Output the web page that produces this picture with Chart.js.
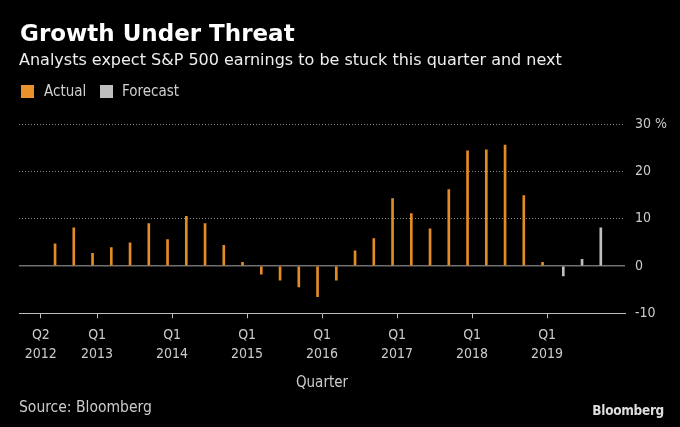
<!DOCTYPE html>
<html>
<head>
<meta charset="utf-8">
<script src="https://cdn.jsdelivr.net/npm/chart.js@4.4.1/dist/chart.umd.min.js"></script>
<style>
html,body{margin:0;padding:0;background:#000;}
#wrap{position:relative;width:680px;height:427px;background:#000;overflow:hidden;}
canvas{position:absolute;left:0;top:0;}
.t{position:absolute;white-space:nowrap;line-height:1;}
#title{left:20px;top:21.5px;font-family:'DejaVu Sans';font-weight:bold;font-size:23px;color:#fff;}
#sub{left:19px;top:51.5px;font-family:'DejaVu Sans';font-size:16px;color:#eee;}
.leg{top:84.3px;font-family:'DejaVu Sans Condensed','DejaVu Sans';font-size:15px;color:#d0d0d0;}
.box{position:absolute;top:85px;width:13px;height:13px;}
#src{left:19px;top:399.5px;font-family:'DejaVu Sans Condensed','DejaVu Sans';font-size:15.5px;color:#ccc;}
#logo{right:16px;top:404px;font-family:'DejaVu Sans Condensed','DejaVu Sans';font-weight:bold;font-size:13.5px;color:#ddd;letter-spacing:-0.3px;}
</style>
</head>
<body>
<div id="wrap">
<canvas id="c" width="680" height="427"></canvas>
<div class="t" id="title">Growth Under Threat</div>
<div class="t" id="sub">Analysts expect S&amp;P 500 earnings to be stuck this quarter and next</div>
<div class="box" style="left:21px;background:#E8912D;"></div>
<div class="t leg" style="left:44px;">Actual</div>
<div class="box" style="left:100px;background:#BFBFBF;"></div>
<div class="t leg" style="left:122px;">Forecast</div>
<div class="t" id="src">Source: Bloomberg</div>
<div class="t" id="logo">Bloomberg</div>
</div>
<script>
// ---- data ----
const quarters = [
  'Q2 2012','Q3 2012','Q4 2012',
  'Q1 2013','Q2 2013','Q3 2013','Q4 2013',
  'Q1 2014','Q2 2014','Q3 2014','Q4 2014',
  'Q1 2015','Q2 2015','Q3 2015','Q4 2015',
  'Q1 2016','Q2 2016','Q3 2016','Q4 2016',
  'Q1 2017','Q2 2017','Q3 2017','Q4 2017',
  'Q1 2018','Q2 2018','Q3 2018','Q4 2018',
  'Q1 2019','Q2 2019','Q3 2019','Q4 2019'
];
const actual = [
  null, 4.7, 8.1,
  2.7, 3.9, 4.9, 9.0,
  5.6, 10.5, 9.0, 4.4,
  0.8, -1.7, -3.0, -4.4,
  -6.5, -3.0, 3.2, 5.8,
  14.3, 11.1, 7.9, 16.2,
  24.4, 24.6, 25.6, 14.9,
  0.8, null, null, null
];
const forecast = [
  null, null, null,
  null, null, null, null,
  null, null, null, null,
  null, null, null, null,
  null, null, null, null,
  null, null, null, null,
  null, null, null, null,
  null, -2.1, 1.4, 8.1
];
const xTickQuarters = ['Q2 2012','Q1 2013','Q1 2014','Q1 2015','Q1 2016','Q1 2017','Q1 2018','Q1 2019'];
const yTicks = [-10, 0, 10, 20, 30];
const seriesNames = ['Actual', 'Forecast'];

// ---- build ----
const toPoints = arr => arr.map((v, i) => ({x: i, y: v})).filter(p => p.y !== null);
const FONT = "'DejaVu Sans Condensed', 'DejaVu Sans', sans-serif";
const tickShift = 0.19;

new Chart(document.getElementById('c'), {
  type: 'bar',
  data: {
    datasets: [
      {label: seriesNames[0], data: toPoints(actual), backgroundColor: '#E38C26', barThickness: 2, borderWidth: 0},
      {label: seriesNames[1], data: toPoints(forecast), backgroundColor: '#BFBFBF', barThickness: 2, borderWidth: 0}
    ]
  },
  options: {
    responsive: false,
    animation: false,
    devicePixelRatio: 1,
    layout: {padding: {left: 19, top: 124.3, right: 0, bottom: 0}},
    plugins: {legend: {display: false}, tooltip: {enabled: false}},
    scales: {
      x: {
        type: 'linear',
        position: 'bottom',
        offset: false,
        min: -0.976,
        max: 31.344,
        afterFit: s => { s.height = 113.7; },
        afterBuildTicks: s => {
          s.ticks = xTickQuarters.map(q => ({value: quarters.indexOf(q) + tickShift}));
        },
        grid: {offset: false, drawOnChartArea: false, drawTicks: true, tickLength: 5, color: '#bdbdbd', lineWidth: 1},
        border: {display: true, color: '#bdbdbd', width: 1},
        ticks: {
          autoSkip: false, maxRotation: 0, minRotation: 0,
          color: '#cccccc', padding: 7,
          font: {family: FONT, size: 14, lineHeight: 1.4},
          callback: (v, i) => xTickQuarters[i].split(' ')
        },
        title: {
          display: true, text: 'Quarter', color: '#cccccc',
          font: {family: FONT, size: 15, lineHeight: 1.2},
          padding: {top: 0, bottom: 34.5}
        }
      },
      y: {
        position: 'right',
        min: -10,
        max: 30,
        afterFit: s => { s.width = 55; },
        afterBuildTicks: s => { s.ticks = yTicks.map(v => ({value: v})); },
        grid: {
          drawTicks: false,
          color: c => c.tick && c.tick.value === -10 ? 'rgba(0,0,0,0)' : (c.tick && c.tick.value === 0 ? '#6e6e6e' : '#8a8a8a'),
          lineWidth: c => c.tick && c.tick.value === 0 ? 1.6 : 1
        },
        border: {
          display: false,
          dash: c => (c.type === 'tick' && c.tick && c.tick.value !== 0) ? [1, 2] : []
        },
        ticks: {
          color: '#cccccc', padding: 10,
          font: {family: FONT, size: 14},
          callback: v => v === 30 ? '30 %' : String(v)
        }
      }
    }
  }
});
</script>
</body>
</html>
